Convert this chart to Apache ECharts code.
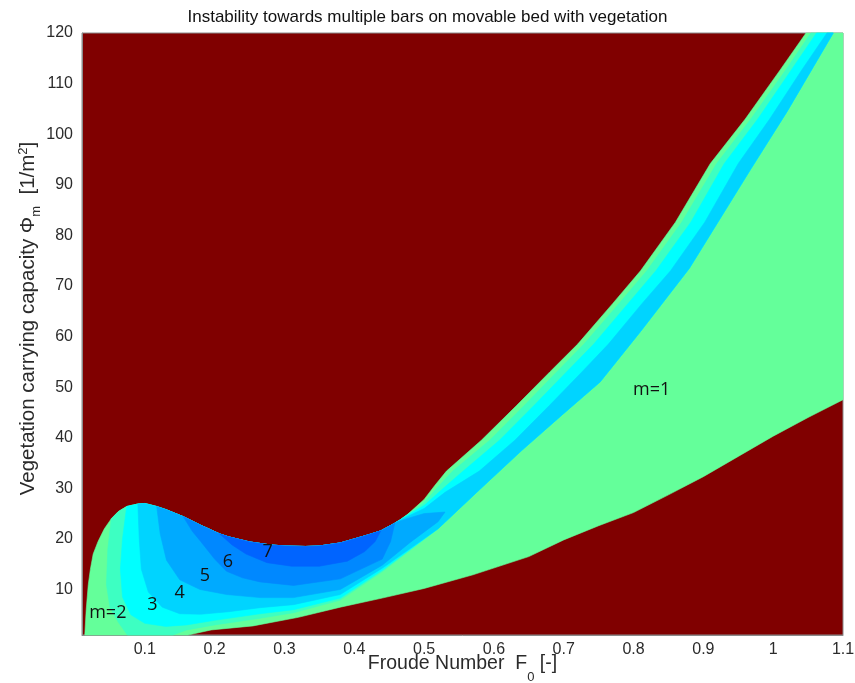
<!DOCTYPE html>
<html>
<head>
<meta charset="utf-8">
<script src="https://cdn.jsdelivr.net/npm/echarts@6/dist/echarts.min.js"></script>
<style>
html,body{margin:0;padding:0;background:#fff;}
#chart{width:855px;height:683px;}
</style>
</head>
<body>
<div id="chart"></div>
<script>
// ---- axis ticks ----
const xTicks = [0.1, 0.2, 0.3, 0.4, 0.5, 0.6, 0.7, 0.8, 0.9, 1, 1.1];
const yTicks = [10, 20, 30, 40, 50, 60, 70, 80, 90, 100, 110, 120];

// ---- colours of the regions (stable background + m levels) ----
const stableColor = '#800000';
const levelColors = ['#64ff9a', '#3dffc2', '#00ffff', '#00d4ff', '#00aaff', '#0088ff', '#0064ff'];

// ---- upper envelope of the unstable region [F0, Phi_m] ----
const envTop = [
  [0.014,1],[0.016,6],[0.019,11],[0.022,14],[0.026,17],[0.033,19.5],[0.042,22],[0.052,24],
  [0.062,25.4],[0.074,26.4],[0.09,26.9],[0.1,27],[0.117,26.4],[0.13,25.8],[0.155,24.4],
  [0.18,22.7],[0.207,21.0],[0.22,20.4],[0.25,19.4],[0.28,18.8],[0.30,18.6],[0.33,18.5],
  [0.35,18.6],[0.38,19.2],[0.40,20.0],[0.42,20.8],[0.438,21.6],[0.458,23.1],[0.46,23.3],
  [0.465,23.7],[0.47,24.2],[0.475,24.7],[0.48,25.3],[0.50,27.8],[0.515,30.5],[0.532,33.4],
  [0.582,39.5],[0.632,46.3],[0.68,53],[0.72,58.5],[0.77,66.5],[0.81,73],[0.86,82.6],
  [0.91,94.2],[0.96,103],[1.01,112.7],[1.047,120]
];
// ---- lower envelope of the unstable region ----
const envBottom = [
  [0.162,1],[0.195,2],[0.255,2.8],[0.32,4.5],[0.38,6.5],[0.44,8.3],[0.50,10.2],[0.57,12.9],
  [0.65,16.5],[0.70,19.8],[0.75,22.6],[0.80,25.2],[0.85,28.7],[0.90,32.3],[0.95,36.3],
  [1.0,40.3],[1.05,44],[1.10,47.5]
];
// ---- lower edge of the diagonal multi-bar band ----
const bandLow = [
  [0.52,22.0],[0.58,29.8],[0.64,37.5],[0.70,44.8],[0.752,51],[0.81,61],[0.88,73.5],
  [0.967,92.9],[1.02,104.5],[1.086,120]
];
// ---- boundaries between successive m levels ----
const low2 = [[0.052,24],[0.047,18],[0.045,11],[0.05,6.5],[0.062,3.5],[0.075,1],[0.14,1],
  [0.16,2.0],[0.20,3.0],[0.265,4.3],[0.313,5.4],[0.38,7.9],[0.44,13.5]];
const up2 = [[0.475,24.7],[0.50,27.2],[0.52,30.3],[0.541,33.4],[0.594,39.5],[0.643,46.3],
  [0.69,53],[0.729,58.5],[0.779,66.5],[0.819,73],[0.869,82.6],[0.919,94.2],[0.968,103],
  [1.018,112.7],[1.054,120]];
const low3 = [[0.074,26.4],[0.068,20],[0.065,14],[0.068,8.5],[0.08,5],[0.10,3.3],[0.13,2.7],
  [0.16,3.0],[0.20,3.9],[0.265,5.2],[0.313,6.0],[0.38,8.3],[0.44,13.8]];
const up3 = [[0.47,24.2],[0.50,26.6],[0.53,30.3],[0.556,33.4],[0.608,39.5],[0.657,46.3],
  [0.704,53],[0.743,58.5],[0.792,66.5],[0.832,73],[0.882,82.6],[0.93,94.2],[0.978,103],
  [1.026,112.7],[1.062,120]];
const low4 = [[0.09,26.9],[0.092,20],[0.095,14],[0.105,9.5],[0.125,6.5],[0.15,5.2],[0.18,5.1],
  [0.22,5.6],[0.265,6.4],[0.313,7.0],[0.38,9.0],[0.44,14.2]];
const up4 = [[0.465,23.7],[0.50,26.0],[0.53,29.2],[0.579,33.4],[0.63,39.5],[0.679,46.3],
  [0.726,53],[0.764,58.5],[0.812,66.5],[0.853,73],[0.902,82.6],[0.95,94.2],[0.995,103],
  [1.041,112.7],[1.077,120]];
const low5 = [[0.117,26.4],[0.122,21],[0.131,15.8],[0.15,11.9],[0.179,10],[0.217,9.0],
  [0.265,8.4],[0.313,8.4],[0.38,10.0],[0.44,14.8],[0.48,19.3],[0.52,23.4],[0.53,25.3]];
const up5 = [[0.46,23.3],[0.48,24.2],[0.50,25.0],[0.53,25.3]];
const low6 = [[0.155,24.4],[0.168,21.5],[0.18,19.5],[0.20,16],[0.217,13.6],[0.24,12.3],
  [0.265,11.5],[0.313,10.8],[0.38,12.1],[0.44,16.0],[0.452,19.5],[0.458,23.1]];
const low7 = [[0.207,21.0],[0.225,18.8],[0.245,17.0],[0.275,15.3],[0.31,14.6],[0.35,14.6],
  [0.39,15.6],[0.415,17.5],[0.43,19.5],[0.438,21.6]];

// ---- text annotations ----
const annotations = [
  [0.047, 5.3, 'm=2'], [0.111, 6.9, '3'], [0.150, 9.3, '4'], [0.186, 12.7, '5'],
  [0.219, 15.4, '6'], [0.276, 17.4, '7'], [0.826, 49.4, 'm=1']
];

// ---- build polygons ----
function envSeg(a, b) { return envTop.filter(p => p[0] >= a && p[0] <= b); }
const polys = [];
polys.push({ c: levelColors[0], pts: envTop.concat([[1.1,120]], envBottom.slice().reverse()) });
function bandPoly(low, up) {
  return envSeg(low[0][0], up[0][0]).concat(up.slice(1), low.concat(bandLow).reverse());
}
polys.push({ c: levelColors[1], pts: bandPoly(low2, up2) });
polys.push({ c: levelColors[2], pts: bandPoly(low3, up3) });
polys.push({ c: levelColors[3], pts: bandPoly(low4, up4) });
polys.push({ c: levelColors[4], pts: envSeg(low5[0][0], up5[0][0]).concat(up5.slice(1), low5.slice().reverse()) });
polys.push({ c: levelColors[5], pts: envSeg(low6[0][0], low6[low6.length-1][0]).concat(low6.slice().reverse()) });
polys.push({ c: levelColors[6], pts: envSeg(low7[0][0], low7[low7.length-1][0]).concat(low7.slice().reverse()) });

const FONT = 'Liberation Sans, Arial, Helvetica, sans-serif';
const TXT = '#2b2b2b';
const chart = echarts.init(document.getElementById('chart'), null, { renderer: 'canvas' });
chart.setOption({
  animation: false,
  backgroundColor: '#ffffff',
  title: {
    text: 'Instability towards multiple bars on movable bed with vegetation',
    left: 'center', top: 4,
    textStyle: { fontFamily: FONT, fontSize: 17, fontWeight: 'normal', color: '#111' }
  },
  grid: { left: 82, right: 12, top: 33, bottom: 48, show: true, backgroundColor: stableColor,
          borderColor: '#8a8a8a', borderWidth: 1, outerBoundsMode: 'none', containLabel: false },
  xAxis: {
    type: 'value', min: 0.01, max: 1.1,
    splitLine: { show: false }, axisTick: { show: false },
    axisLine: { show: true, lineStyle: { color: '#8a8a8a' } },
    axisLabel: { customValues: xTicks, fontFamily: FONT, fontSize: 16, color: TXT, margin: 7,
                 formatter: v => String(v) },
    name: 'Froude Number  F{sub|0} [-]', nameLocation: 'middle', nameGap: 19, nameMoveOverlap: false,
    nameTextStyle: { fontFamily: FONT, fontSize: 19.5, color: TXT, verticalAlign: 'top',
      lineHeight: 20,
      rich: { sub: { fontFamily: FONT, fontSize: 13, color: TXT, lineHeight: 13, padding: [17, 0, 0, 0], verticalAlign: 'top' } } }
  },
  yAxis: {
    type: 'value', min: 1, max: 120,
    splitLine: { show: false }, axisTick: { show: false },
    axisLine: { show: true, lineStyle: { color: '#8a8a8a' } },
    axisLabel: { customValues: yTicks, fontFamily: FONT, fontSize: 16, color: TXT, margin: 9 },
    name: 'Vegetation carrying capacity \u03A6{sub|m}  [1/m{sup|2}]', nameLocation: 'middle', nameGap: 43,
    nameRotate: 90, nameMoveOverlap: false,
    nameTextStyle: { fontFamily: FONT, fontSize: 20.5, color: TXT, lineHeight: 22, padding: [0, 0, 0, 31],
      rich: {
        sub: { fontFamily: FONT, fontSize: 13, color: TXT, lineHeight: 13, padding: [13, 0, 0, 0], verticalAlign: 'top' },
        sup: { fontFamily: FONT, fontSize: 13, color: TXT, lineHeight: 13, padding: [0, 0, 0, 0], verticalAlign: 'top' }
      } }
  },
  series: [
    {
      type: 'custom', coordinateSystem: 'cartesian2d', silent: true,
      data: polys.map((p, i) => [0.5, 50, i]),
      renderItem: function (params, api) {
        const p = polys[api.value(2)];
        return { type: 'polygon', shape: { points: p.pts.map(q => api.coord(q)) },
                 style: { fill: p.c, stroke: p.c, lineWidth: 0.6 } };
      }
    },
    {
      type: 'custom', coordinateSystem: 'cartesian2d', silent: true, z: 5,
      data: annotations,
      renderItem: function (params, api) {
        const pt = api.coord([api.value(0), api.value(1)]);
        return { type: 'text', x: pt[0], y: pt[1],
                 style: { text: annotations[params.dataIndex][2], fontFamily: 'Open Sans, DejaVu Sans, sans-serif',
                          fontSize: 18, fill: '#111', align: 'center', verticalAlign: 'middle' } };
      }
    }
  ]
});
</script>
</body>
</html>
